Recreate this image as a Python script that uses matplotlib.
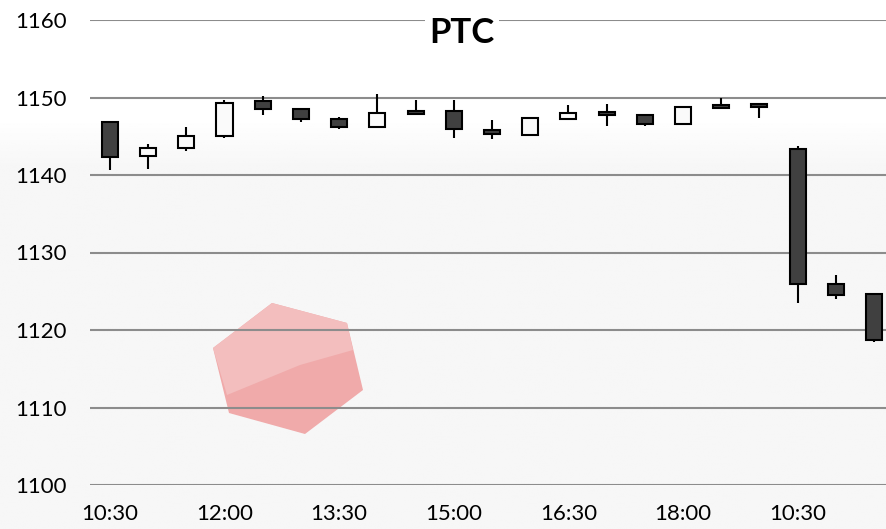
import numpy as np
import matplotlib
matplotlib.use('Agg')
import matplotlib.pyplot as plt
from matplotlib.patches import Polygon

plt.rcParams['font.family'] = ['Lato', 'DejaVu Sans']

# 30-хвилинні свічки PTC
tick_labels = ['10:30', '12:00', '13:30', '15:00', '16:30', '18:00', '10:30']
opens = [1146.8, 1142.5, 1143.5, 1145.0, 1149.5, 1148.5, 1147.2, 1146.2, 1148.2, 1148.2, 1145.8,
         1145.2, 1147.2, 1148.1, 1147.8, 1146.6, 1149.0, 1149.1, 1143.3, 1125.9, 1124.6]
highs = [1146.8, 1144.0, 1146.2, 1149.7, 1150.2, 1148.5, 1147.5, 1150.4, 1149.7, 1149.7, 1147.1,
         1147.5, 1149.0, 1149.2, 1147.9, 1148.8, 1150.0, 1149.1, 1143.7, 1127.1, 1124.8]
lows = [1140.6, 1140.8, 1143.1, 1144.8, 1147.8, 1146.8, 1146.0, 1146.2, 1147.8, 1144.8, 1144.6,
        1145.0, 1147.2, 1146.3, 1146.3, 1146.4, 1148.6, 1147.3, 1123.5, 1124.0, 1118.5]
closes = [1142.3, 1143.5, 1145.0, 1149.3, 1148.5, 1147.2, 1146.2, 1148.0, 1147.9, 1145.9, 1145.3,
          1147.3, 1148.0, 1147.8, 1146.6, 1148.8, 1148.7, 1148.8, 1125.9, 1124.5, 1118.7]

W, H = 887, 529
fig = plt.figure(figsize=(W / 100, H / 100), dpi=100)

# фон: білий зверху, світло-сірий знизу
bg = fig.add_axes([0, 0, 1, 1], zorder=-2)
yy = np.linspace(0, 1, 300)
shade = 1.0 - 0.035 * np.clip((yy - 0.22) / 0.1, 0, 1)
bg.imshow(np.tile(shade[:, None], (1, 10)), cmap='gray', vmin=0, vmax=1,
          aspect='auto', extent=[0, W, H, 0])
hex_pts = [(272, 303), (347, 323), (363, 390), (305, 434), (229, 413), (213, 348)]
bg.add_patch(Polygon(hex_pts, closed=True, facecolor='#f0aaaa', edgecolor='none'))
bg.add_patch(Polygon([(272, 303), (347, 323), (353, 350), (300, 365), (227, 395), (213, 348)],
                     closed=True, facecolor='#f3bebe', edgecolor='none'))
bg.set_xlim(0, W)
bg.set_ylim(H, 0)
bg.axis('off')

ax = fig.add_axes([90 / W, (H - 485) / H, (W - 90) / W, 465 / H])
ax.patch.set_alpha(0)

x = np.arange(len(opens))
o = np.array(opens)
c = np.array(closes)
ax.vlines(x, lows, highs, color='black', lw=1.5, zorder=2)
ax.bar(x, np.abs(c - o), bottom=np.minimum(o, c), width=0.42,
       color=np.where(c < o, '#404040', '#fafafa'), edgecolor='black', linewidth=1.5, zorder=3)

ax.set_ylim(1100, 1160)
ax.set_xlim(-0.52, 20.34)
ax.set_yticks(np.arange(1100, 1161, 10))
ax.yaxis.grid(True, color='#8c8c8c', lw=1.5)
ax.set_axisbelow(True)
ax.set_xticks(x[::3])
ax.set_xticklabels(tick_labels)
for s in ax.spines.values():
    s.set_visible(False)
ax.tick_params(axis='y', length=0, pad=54, labelsize=16)
ax.tick_params(axis='x', length=0, pad=14, labelsize=16)
for lab in ax.get_yticklabels():
    lab.set_horizontalalignment('left')

fig.text(462 / W, 1 - 33 / H, 'PTC', ha='center', va='center', fontsize=25, fontweight='bold',
         bbox=dict(facecolor='white', edgecolor='none', pad=3))

fig.savefig('out.png', dpi=100)
